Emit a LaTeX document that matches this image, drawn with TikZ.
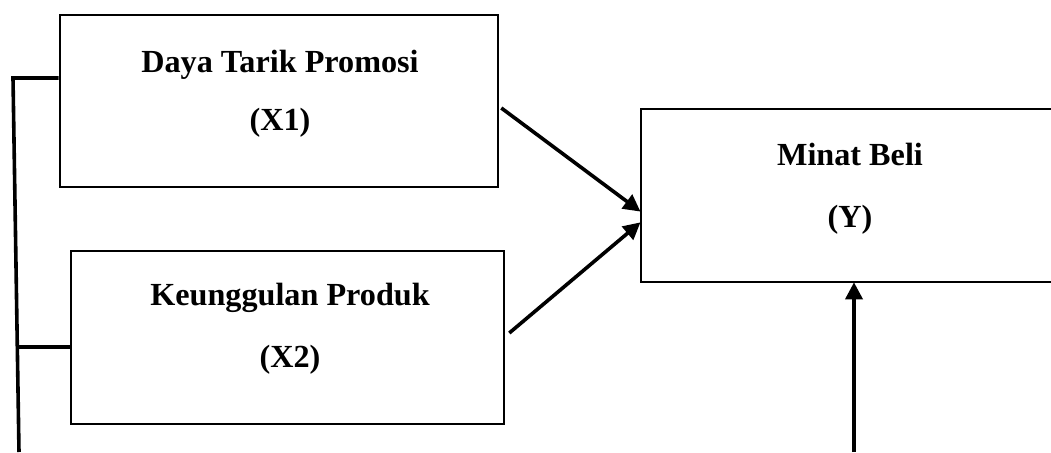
\documentclass[tikz,border=0pt]{standalone}
\usepackage{fontspec}
\setmainfont{Liberation Serif}
\usetikzlibrary{arrows.meta,calc}

\tikzset{
  box/.style={draw=black, line width=2.6pt, rectangle, inner sep=0pt},
  lbl/.style={font=\fontsize{32.2}{38}\selectfont\bfseries, inner sep=0pt, anchor=base},
  conn/.style={draw=black, line width=3.6pt},
  arr/.style={conn, -{Triangle[length=17pt,width=17pt]}, shorten >=-1pt}
}

\begin{document}
\begin{tikzpicture}[x=1pt, y=-1pt]
  \clip (0,0) rectangle (1051,452);
  \fill[white] (0,0) rectangle (1051,452);

  % variable boxes
  \node[box, minimum width=438pt, minimum height=172pt] (x1) at (279,101) {};
  \node[box, minimum width=433pt, minimum height=173pt] (x2) at (287.5,337.5) {};
  \node[box, minimum width=418pt, minimum height=173pt] (y) at (850,195.5) {};

  % box labels
  \node[lbl] (x1a) at (280,72) {Daya Tarik Promosi};
  \node[lbl] (x1b) at (280,130) {(X1)};
  \node[lbl] (x2a) at (290,305) {Keunggulan Produk};
  \node[lbl] (x2b) at (290,367) {(X2)};
  \node[lbl] (ya) at (850,165) {Minat Beli};
  \node[lbl] (yb) at (850,227) {(Y)};

  % arrows into Minat Beli
  \coordinate (s1) at ([shift={(2,7)}]x1.east);
  \coordinate (e1) at ([shift={(0,15.5)}]y.west);
  \coordinate (s2) at ([shift={(4,-4.5)}]x2.east);
  \coordinate (e2) at ([shift={(0,27.5)}]y.west);
  \draw[arr] (s1) -- (e1);
  \draw[arr] (s2) -- (e2);

  % arrow from below
  \coordinate (bot) at (854,452);
  \draw[arr] (bot) -- (bot |- y.south);

  % bracket on the left joining X1 and X2
  \coordinate (lt) at (13,78);
  \coordinate (lb) at (19,452);
  \coordinate (lm) at ($(lt)!0.719!(lb)$);
  \draw[conn] (lb) -- (lt) -- (x1.west |- lt);
  \draw[conn] (lm) -- (x2.west |- lm);
\end{tikzpicture}
\end{document}
